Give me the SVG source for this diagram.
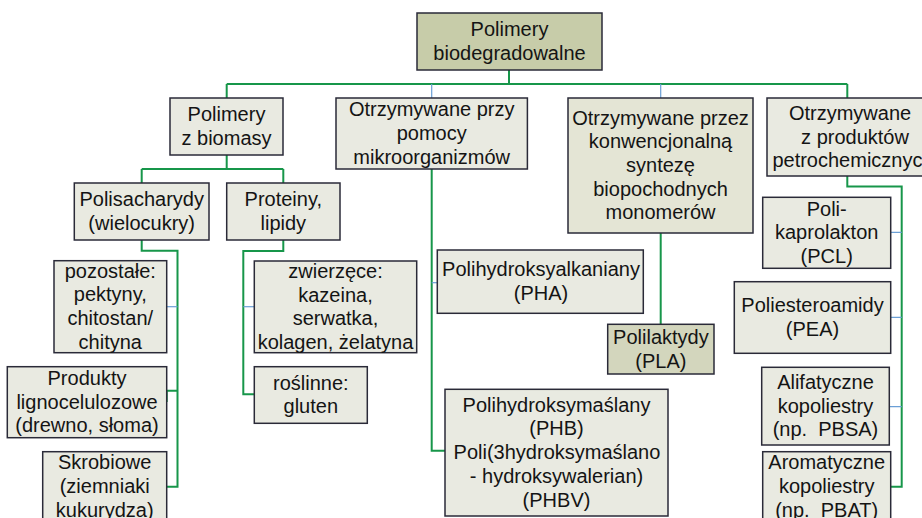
<svg xmlns="http://www.w3.org/2000/svg" width="922" height="518" viewBox="0 0 922 518">
<style>
.bx{fill:#e9eae1;stroke:#2a2a38;stroke-width:1.5}
.ol{fill:#c7cca9}
.pl{fill:#d3d6bd}
.md{fill:#e4e5d5}
.g{fill:none;stroke:#17964a;stroke-width:2}
.b{fill:none;stroke:#6b9fd6;stroke-width:1.2}
text{font-family:"Liberation Sans",Arial,sans-serif;font-size:20px;fill:#141414;text-anchor:middle}
</style>
<rect width="922" height="518" fill="#ffffff"/>
<g id="connectors">
<path class="g" d="M509,70V84M226.7,84H847.3M226.7,84V98M847.3,84V98"/>
<path class="b" d="M431.7,84V98M660.7,84V98"/>
<path class="g" d="M226.7,155V169M141.7,169H283.3M141.7,169V183M283.3,169V183"/>
<path class="g" d="M141.7,240V250.7H177.5V486.7H166.7M177.5,390.7H166.7V402"/>
<path class="b" d="M177.5,306.7H166.7"/>
<path class="g" d="M283.3,240V251H243.3V394.3H254.3"/>
<path class="b" d="M243.3,306.7H254.3"/>
<path class="g" d="M431.7,169V450.7H445"/>
<path class="b" d="M431.7,282.7H437.3"/>
<path class="g" d="M660.7,232.7V324.3"/>
<path class="g" d="M847.3,176V186.5H901.7V486.7H890.7"/>
<path class="b" d="M901.7,232.3H890.7M901.7,317.3H890.7M901.7,406.7H889.3"/>
</g>
<g id="n-root"><rect class="bx ol" x="417" y="13" width="185" height="57"/><text x="509.5" y="36.2">Polimery</text><text x="509.5" y="59.9">biodegradowalne</text></g>
<g id="n-biomasa"><rect class="bx" x="170" y="98" width="113" height="57"/><text x="226.5" y="121.2">Polimery</text><text x="226.5" y="144.9">z biomasy</text></g>
<g id="n-mikro"><rect class="bx" x="336" y="98" width="191.4" height="71"/><text x="431.7" y="116.3">Otrzymywane przy</text><text x="431.7" y="140">pomocy</text><text x="431.7" y="163.7">mikroorganizmów</text></g>
<g id="n-synteza"><rect class="bx md" x="568" y="98" width="185" height="135"/><text x="660.5" y="124.6">Otrzymywane przez</text><text x="660.5" y="148.3">konwencjonalną</text><text x="660.5" y="172">syntezę</text><text x="660.5" y="195.7">biopochodnych</text><text x="660.5" y="219.4">monomerów</text></g>
<g id="n-petro"><rect class="bx" x="767" y="98" width="166" height="78"/><text x="850" y="119.8">Otrzymywane</text><text x="855" y="143.5">z produktów</text><text x="853" y="167.2">petrochemicznych</text></g>
<g id="n-polisach"><rect class="bx" x="74.3" y="183" width="134.7" height="57"/><text x="141.7" y="206.2">Polisacharydy</text><text x="141.7" y="229.9">(wielocukry)</text></g>
<g id="n-proteiny"><rect class="bx" x="226.7" y="183" width="113.3" height="57"/><text x="283.3" y="206.2">Proteiny,</text><text x="283.3" y="229.9">lipidy</text></g>
<g id="n-pozostale"><rect class="bx" x="54" y="260.7" width="112.7" height="92"/><text x="110.3" y="277.7">pozostałe:</text><text x="110.3" y="301.4">pektyny,</text><text x="110.3" y="325.1">chitostan/</text><text x="110.3" y="348.8">chityna</text></g>
<g id="n-ligno"><rect class="bx" x="7.3" y="366.7" width="159.4" height="71"/><text x="87" y="384.9">Produkty</text><text x="87" y="408.6">lignocelulozowe</text><text x="87" y="432.3">(drewno, słoma)</text></g>
<g id="n-skrobia"><rect class="bx" x="42.7" y="451.7" width="124" height="70"/><text x="104.7" y="469.4">Skrobiowe</text><text x="104.7" y="493.1">(ziemniaki</text><text x="104.7" y="516.8">kukurydza)</text></g>
<g id="n-zwierz"><rect class="bx" x="254.3" y="261" width="162.4" height="91.7"/><text x="335.5" y="277.8">zwierzęce:</text><text x="335.5" y="301.5">kazeina,</text><text x="335.5" y="325.2">serwatka,</text><text x="335.5" y="348.9">kolagen, żelatyna</text></g>
<g id="n-rosl"><rect class="bx" x="254.3" y="366.7" width="113" height="56.6"/><text x="310.8" y="389.7">roślinne:</text><text x="310.8" y="413.4">gluten</text></g>
<g id="n-pha"><rect class="bx" x="437.3" y="250" width="206" height="63.3"/><text x="541" y="276.3">Polihydroksyalkaniany</text><text x="541" y="300">(PHA)</text></g>
<g id="n-phb"><rect class="bx" x="445" y="389.3" width="223" height="126.7"/><text x="556.5" y="411.7">Polihydroksymaślany</text><text x="556.5" y="435.4">(PHB)</text><text x="557" y="459.1">Poli(3hydroksymaślano</text><text x="556.5" y="482.8">- hydroksywalerian)</text><text x="556.5" y="506.5">(PHBV)</text></g>
<g id="n-pla"><rect class="bx pl" x="607.7" y="324.3" width="106.3" height="49.7"/><text x="660.9" y="343.8">Polilaktydy</text><text x="660.9" y="367.5">(PLA)</text></g>
<g id="n-pcl"><rect class="bx" x="762.7" y="197.3" width="128" height="71"/><text x="826.7" y="215.5">Poli-</text><text x="826.7" y="239.2">kaprolakton</text><text x="826.7" y="262.9">(PCL)</text></g>
<g id="n-pea"><rect class="bx" x="734.3" y="281.7" width="156.4" height="71.6"/><text x="812.5" y="312.2">Poliesteroamidy</text><text x="812.5" y="335.9">(PEA)</text></g>
<g id="n-alif"><rect class="bx" x="761.7" y="367.3" width="127.6" height="77.7"/><text x="825.5" y="388.9">Alifatyczne</text><text x="825.5" y="412.6">kopoliestry</text><text x="825.5" y="436.3" xml:space="preserve">(np.  PBSA)</text></g>
<g id="n-arom"><rect class="bx" x="762.7" y="451.7" width="128" height="70"/><text x="826.7" y="469.4">Aromatyczne</text><text x="826.7" y="493.1">kopoliestry</text><text x="826.7" y="516.8" xml:space="preserve">(np.  PBAT)</text></g>
</svg>
